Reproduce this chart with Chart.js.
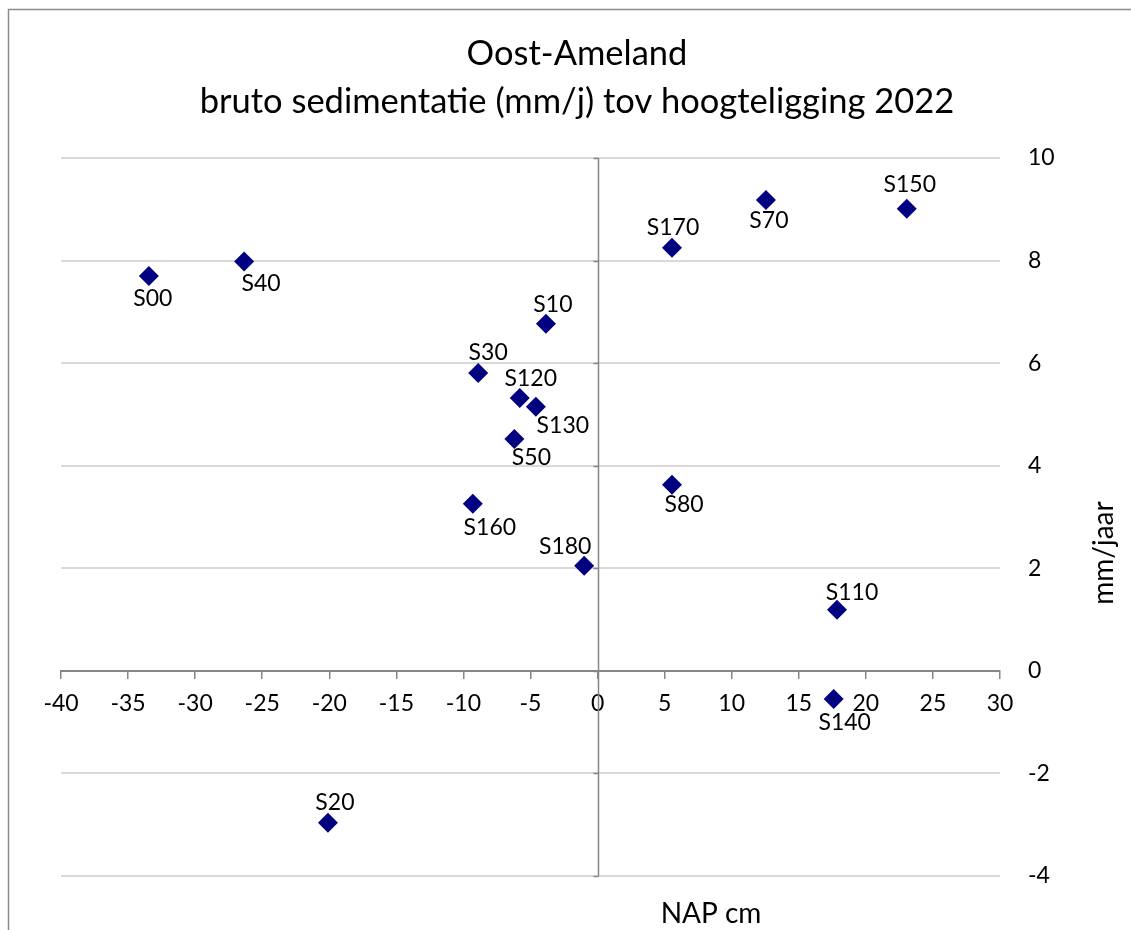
<!DOCTYPE html>
<html>
<head>
<meta charset="utf-8">
<title>Oost-Ameland bruto sedimentatie</title>
<script src="https://cdn.jsdelivr.net/npm/chart.js@4.4.1/dist/chart.umd.min.js"></script>
<style>
  html, body { margin: 0; padding: 0; background: #fff; overflow: hidden; }
  canvas { display: block; }
</style>
</head>
<body>
<canvas id="chart" width="1131" height="930"></canvas>
<script>
// Meetstations, hoogteligging (cm NAP) en bruto sedimentatie (mm/jaar)
const stations     = ['S00', 'S40', 'S20', 'S10', 'S30', 'S120', 'S130', 'S50', 'S160', 'S180', 'S170', 'S80', 'S70', 'S150', 'S110', 'S140'];
const napCm        = [-33.45, -26.35, -20.1, -3.85, -8.9, -5.8, -4.6, -6.2, -9.3, -1.0, 5.55, 5.55, 12.55, 23.05, 17.85, 17.6];
const sedimentatie = [7.70, 7.98, -2.96, 6.77, 5.81, 5.32, 5.15, 4.52, 3.26, 2.05, 8.25, 3.63, 9.18, 9.01, 1.19, -0.55];

const xTickValues = [-40, -35, -30, -25, -20, -15, -10, -5, 0, 5, 10, 15, 20, 25, 30];
const yTickValues = [-4, -2, 0, 2, 4, 6, 8, 10];

const titleLines = ['Oost-Ameland', 'bruto sedimentatie (mm/j) tov hoogteligging 2022'];
const xTitle = 'NAP cm';
const yTitle = 'mm/jaar';

// Plaatsing van de puntlabels ten opzichte van de markering (px)
const labelOffsets = {
  S00: [4, 23], S40: [17, 22], S20: [7, -20], S10: [7, -19], S30: [10, -20],
  S120: [11, -19], S130: [27, 19], S50: [17, 19], S160: [17, 24], S180: [-19, -19],
  S170: [1, -20], S80: [12, 20], S70: [3, 21], S150: [3, -24], S110: [15, -17], S140: [11, 24]
};

const FONT = 'Lato, "Open Sans", sans-serif';
const AXIS_GREY = '#868686';

const points = napCm.map((x, i) => ({ x: x, y: sedimentatie[i] }));

// Kader, titel, as bij x = 0, astitels en puntlabels
const decorations = {
  id: 'decorations',
  beforeDraw(chart) {
    const ctx = chart.ctx;
    ctx.save();
    ctx.strokeStyle = '#8c8c8c';
    ctx.lineWidth = 1.5;
    ctx.beginPath();
    ctx.moveTo(8.5, 940);
    ctx.lineTo(8.5, 9.5);
    ctx.lineTo(1140, 9.5);
    ctx.stroke();
    ctx.restore();
  },
  beforeDatasetsDraw(chart) {
    const ctx = chart.ctx;
    const { x, y } = chart.scales;
    const area = chart.chartArea;
    const x0 = Math.round(x.getPixelForValue(0)) + 0.5;
    ctx.save();
    ctx.strokeStyle = AXIS_GREY;
    ctx.lineWidth = 1.5;
    ctx.beginPath();
    ctx.moveTo(x0, area.top);
    ctx.lineTo(x0, area.bottom);
    yTickValues.forEach(v => {
      const py = Math.round(y.getPixelForValue(v)) + 0.5;
      ctx.moveTo(x0 - 5, py);
      ctx.lineTo(x0, py);
    });
    ctx.stroke();
    ctx.restore();
  },
  afterDraw(chart) {
    const ctx = chart.ctx;
    ctx.save();
    ctx.fillStyle = '#000';
    ctx.textAlign = 'center';
    ctx.textBaseline = 'middle';

    ctx.font = '34.5px ' + FONT;
    ctx.fillText(titleLines[0], 577, 54);
    ctx.fillText(titleLines[1], 577, 102);

    ctx.font = '28px ' + FONT;
    ctx.fillText(xTitle, 711, 914);

    ctx.save();
    ctx.translate(1104, 553);
    ctx.rotate(-Math.PI / 2);
    ctx.fillText(yTitle, 0, 0);
    ctx.restore();

    ctx.font = '23px ' + FONT;
    const meta = chart.getDatasetMeta(0);
    meta.data.forEach((el, i) => {
      const name = stations[i];
      const off = labelOffsets[name] || [0, -20];
      ctx.fillText(name, el.x + off[0], el.y + off[1]);
    });
    ctx.restore();
  }
};

new Chart(document.getElementById('chart'), {
  type: 'scatter',
  data: {
    datasets: [{
      label: 'bruto sedimentatie',
      data: points,
      pointStyle: 'rectRot',
      pointRadius: 10,
      pointHoverRadius: 10,
      backgroundColor: '#000080',
      borderColor: '#000080',
      borderWidth: 0
    }]
  },
  options: {
    responsive: false,
    devicePixelRatio: 1,
    animation: false,
    events: [],
    layout: { padding: { left: 61, top: 158, bottom: 54, right: 0 } },
    plugins: {
      legend: { display: false },
      title: { display: false },
      tooltip: { enabled: false }
    },
    scales: {
      x: {
        type: 'linear',
        position: { y: 0 },
        min: -40,
        max: 30,
        afterBuildTicks: s => { s.ticks = xTickValues.map(v => ({ value: v })); },
        grid: {
          drawOnChartArea: false,
          drawTicks: true,
          tickLength: 7,
          color: AXIS_GREY,
          lineWidth: 1.5
        },
        border: { display: true, color: AXIS_GREY, width: 2 },
        ticks: {
          font: { family: FONT, size: 23 },
          color: '#000',
          padding: 12,
          maxRotation: 0,
          autoSkip: false
        }
      },
      y: {
        type: 'linear',
        position: 'right',
        min: -4,
        max: 10,
        afterBuildTicks: s => { s.ticks = yTickValues.map(v => ({ value: v })); },
        afterFit: s => { s.width = 131; },
        grid: {
          drawTicks: false,
          color: '#d9d9d9',
          lineWidth: 2
        },
        border: { display: false },
        ticks: {
          font: { family: FONT, size: 23 },
          color: '#000',
          padding: 28,
          autoSkip: false
        }
      }
    }
  },
  plugins: [decorations]
});
</script>
</body>
</html>
